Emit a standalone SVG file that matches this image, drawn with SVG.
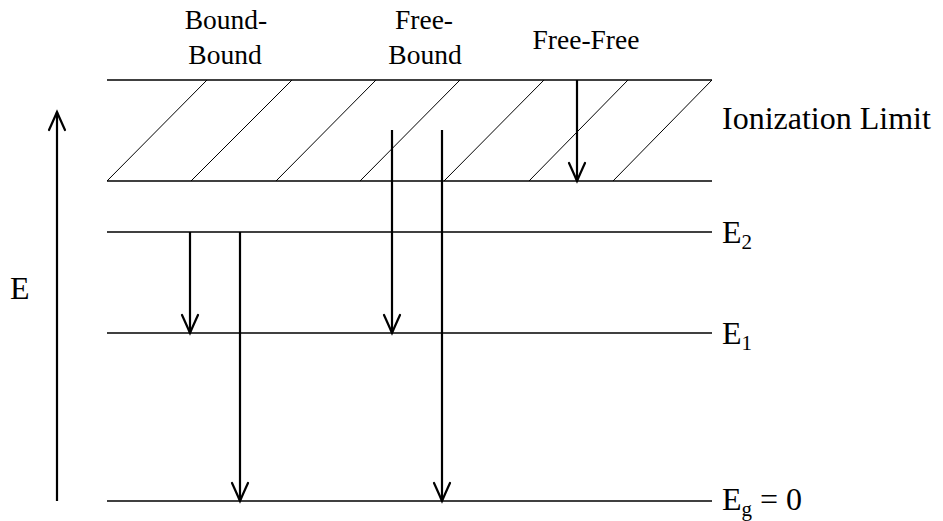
<svg xmlns="http://www.w3.org/2000/svg" width="943" height="521" viewBox="0 0 943 521">
<defs>
<style>
.lvl{stroke:#000;stroke-width:1.3;fill:none}
.hatch{stroke:#000;stroke-width:1;fill:none}
.arr{stroke:#000;stroke-width:2.2;fill:none;marker-end:url(#ah)}
text{font-family:"Liberation Serif","Times New Roman",serif;fill:#000}
.top{font-size:27.5px;text-anchor:middle}
.lab{font-size:32px}
.sub{font-size:21px}
</style>
<marker id="ah" markerUnits="userSpaceOnUse" markerWidth="26" markerHeight="26" viewBox="-22 -13 26 26" refX="0" refY="0" orient="auto">
<path d="M -18 -8 Q -7 -3 0 0 Q -7 3 -18 8" stroke="#000" stroke-width="2.2" fill="none" stroke-linecap="round"/>
</marker>
</defs>
<rect width="943" height="521" fill="#fff"/>
<g id="ionization-band">
<line class="lvl" x1="107" y1="80" x2="712" y2="80"/>
<line class="lvl" x1="107" y1="181" x2="712" y2="181"/>
<line class="hatch" x1="107" y1="181" x2="207" y2="80"/>
<line class="hatch" x1="191" y1="181" x2="292" y2="80"/>
<line class="hatch" x1="276" y1="181" x2="376" y2="80"/>
<line class="hatch" x1="360" y1="181" x2="460" y2="80"/>
<line class="hatch" x1="444" y1="181" x2="544" y2="80"/>
<line class="hatch" x1="529" y1="181" x2="628" y2="80"/>
<line class="hatch" x1="613" y1="181" x2="712" y2="80"/>
<text class="lab" x="722" y="129">Ionization Limit</text>
</g>
<g id="level-E2">
<line class="lvl" x1="107" y1="232" x2="712" y2="232"/>
<text class="lab" x="722" y="243">E<tspan class="sub" dy="6">2</tspan></text>
</g>
<g id="level-E1">
<line class="lvl" x1="107" y1="333" x2="712" y2="333"/>
<text class="lab" x="722" y="344">E<tspan class="sub" dy="6">1</tspan></text>
</g>
<g id="level-Eg">
<line class="lvl" x1="107" y1="501" x2="712" y2="501"/>
<text class="lab" x="722" y="510">E<tspan class="sub" dy="6">g</tspan><tspan dy="-6"> = 0</tspan></text>
</g>
<g id="energy-axis">
<text class="lab" x="10" y="299">E</text>
</g>
<g id="label-bound-bound">
<text class="top" x="226" y="29">Bound-</text>
<text class="top" x="225" y="64">Bound</text>
</g>
<g id="label-free-bound">
<text class="top" x="424" y="29">Free-</text>
<text class="top" x="425" y="64">Bound</text>
</g>
<g id="label-free-free">
<text class="top" x="586" y="49">Free-Free</text>
</g>
<g id="connectors">
<line class="arr" x1="57" y1="501" x2="57" y2="112"/>
<line class="arr" x1="190" y1="232" x2="190" y2="333"/>
<line class="arr" x1="240" y1="232" x2="240" y2="501"/>
<line class="arr" x1="392" y1="130" x2="392" y2="333"/>
<line class="arr" x1="442" y1="130" x2="442" y2="501"/>
<line class="arr" x1="577" y1="80" x2="577" y2="181"/>
</g>
</svg>
